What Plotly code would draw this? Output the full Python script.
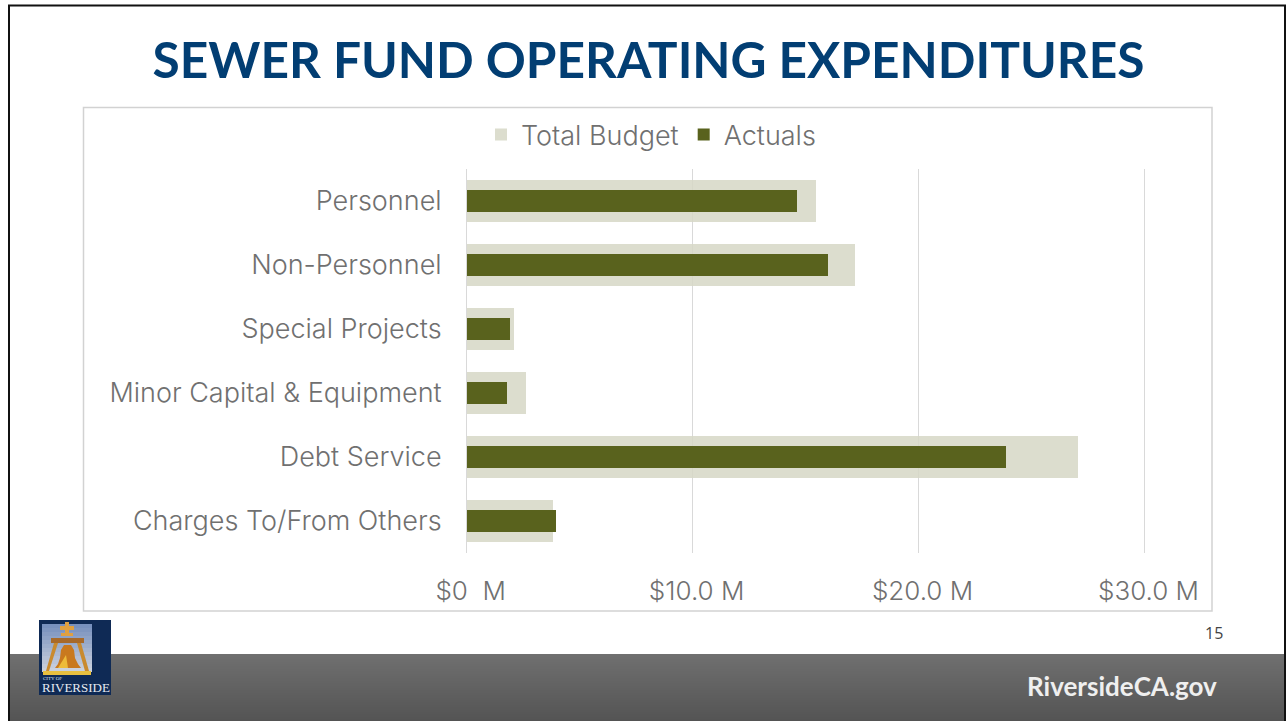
import plotly.graph_objects as go

categories = ["Personnel", "Non-Personnel", "Special Projects", "Minor Capital & Equipment", "Debt Service", "Charges To/From Others"]
total_budget = [15.45, 17.17, 2.08, 2.6, 27.05, 3.8]
actuals = [14.6, 15.97, 1.9, 1.77, 23.85, 3.94]
tick_vals = [0, 10, 20, 30]
tick_text = ["\u00a0$0\u00a0\u00a0M", "\u00a0$10.0 M", "\u00a0$20.0 M", "\u00a0$30.0 M"]

W, H = 1286, 721
FONT = "Inter"
def px(x): return x / W
def py(y): return 1 - y / H
def rect(x0, y0, x1, y1, fill, line=None, lw=1, layer="below"):
    return dict(type="rect", xref="paper", yref="paper", x0=px(x0), x1=px(x1), y0=py(y0), y1=py(y1),
                fillcolor=fill, line=dict(color=line or "rgba(0,0,0,0)", width=lw if line else 0), layer=layer)
def path(points, fill, layer="above"):
    d = "M" + " L".join(f"{px(a):.5f},{py(b):.5f}" for a, b in points) + " Z"
    return dict(type="path", xref="paper", yref="paper", path=d, fillcolor=fill, line=dict(width=0), layer=layer)

shapes = []
# slide frame and chart box
shapes.append(rect(9, 5.5, 1285, 800, "white", "#111111", 2))
shapes.append(rect(83.5, 107.5, 1212, 611, "white", "#D2D2D2", 1.5))
# footer band
top, bot = 654, 721
for i in range(top, bot):
    t = (i - top) / (bot - top)
    g = int(112 - t * 28)
    shapes.append(rect(10, i, 1284, i + 1, f"rgb({g},{g},{g})"))
# logo
shapes.append(rect(39, 620, 111, 695, "#0F2A55", layer="above"))
for i in range(624, 672, 4):
    t = (i - 624) / 48
    shapes.append(rect(42, i, 92, i + 4, f"rgb({int(120+90*t)},{int(145+70*t)},{int(190+35*t)})", layer="above"))
shapes.append(path([(65,622),(69,622),(69,626),(74,626),(74,630),(69,630),(69,633),(73,633),(73,636),(61,636),(61,633),(65,633),(65,630),(60,630),(60,626),(65,626)], "#E0A040"))
shapes.append(path([(51,638),(84,638),(84,643),(51,643)], "#A86A2A"))
shapes.append(path([(54,643),(58,643),(49,671),(46,671)], "#C98A2E"))
shapes.append(path([(77,643),(81,643),(89,671),(85,671)], "#C98A2E"))
shapes.append(path([(64,645),(71,645),(74,650),(75,658),(78,664),(81,668),(55,668),(58,664),(60,658),(61,650)], "#C9791E"))
shapes.append(path([(58,668),(66,655),(68,668)], "#EDBB3A"))
shapes.append(path([(43,671),(91,671),(91,675),(43,675)], "#E8C040"))

annotations = [
    dict(text="RiversideCA.gov", x=px(1219), y=py(686), xref="paper", yref="paper", xanchor="right", yanchor="middle",
         showarrow=False, font=dict(family="Lato", size=26, color="#EFEFEF", weight="bold")),
    dict(text="15", x=px(1225), y=py(633), xref="paper", yref="paper", xanchor="right", yanchor="middle",
         showarrow=False, font=dict(family="Open Sans", size=16, color="#444444")),
    dict(text="CITY OF", x=px(41), y=py(678), xref="paper", yref="paper", xanchor="left", yanchor="middle",
         showarrow=False, font=dict(family="Liberation Serif", size=5, color="#DDE3EE")),
    dict(text="RIVERSIDE", x=px(40), y=py(687), xref="paper", yref="paper", xanchor="left", yanchor="middle",
         showarrow=False, font=dict(family="Liberation Serif", size=13, color="#E6EAF2")),
]

fig = go.Figure()
fig.add_trace(go.Bar(name="Total Budget", y=categories, x=total_budget, orientation="h", width=0.67,
                     marker=dict(color="rgba(214,215,198,0.85)", line=dict(width=0))))
fig.add_trace(go.Bar(name="Actuals", y=categories, x=actuals, orientation="h", width=0.34,
                     marker=dict(color="#59621D", line=dict(width=0))))
fig.update_layout(
    width=W, height=H, autosize=False, barmode="overlay", paper_bgcolor="white", plot_bgcolor="rgba(0,0,0,0)",
    margin=dict(l=0, r=0, t=0, b=0, autoexpand=False), shapes=shapes, annotations=annotations,
    title=dict(text="<b>SEWER FUND OPERATING EXPENDITURES</b>", x=(152+1145)/2/W, xanchor="center", xref="paper",
               y=py(61), yanchor="middle", yref="paper", font=dict(family="Lato", size=49.6, color="#023E73")),
    legend=dict(orientation="h", x=px(651), xanchor="center", y=py(135), yanchor="middle", bgcolor="rgba(0,0,0,0)",
                font=dict(family=FONT, size=27, color="#707070", weight=300), traceorder="normal", itemwidth=30),
    xaxis=dict(domain=[px(467), px(1190)], range=[0, 32], tickvals=tick_vals, ticktext=tick_text, showgrid=True,
               gridcolor="#D9D9D9", gridwidth=1, zeroline=False, showline=False, ticks="", ticklabelstandoff=20,
               automargin=False, tickfont=dict(family=FONT, size=26, color="#707070", weight=300)),
    yaxis=dict(domain=[py(553), py(169)], categoryorder="array", categoryarray=categories, autorange="reversed",
               showgrid=False, zeroline=False, showline=True, linecolor="#D9D9D9", ticks="", ticklabelstandoff=19,
               automargin=False, tickfont=dict(family=FONT, size=27, color="#707070", weight=300)),
    bargap=0,
)
fig.write_html("out.html", config={"displayModeBar": False},
               post_script="document.body.style.margin='0';document.body.style.overflow='hidden';")
